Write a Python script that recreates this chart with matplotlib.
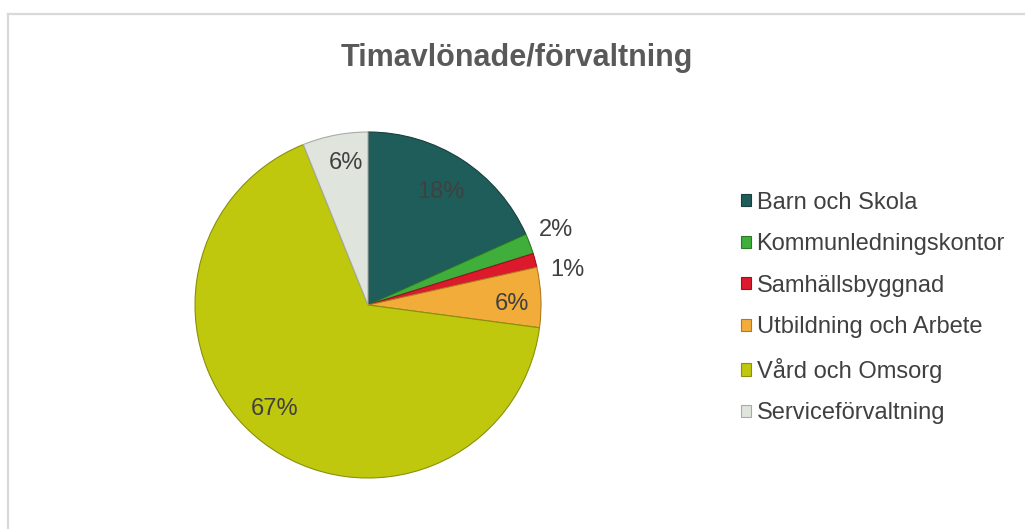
import numpy as np
import matplotlib.pyplot as plt
from matplotlib.patches import Patch
from matplotlib.lines import Line2D

plt.rcParams["font.family"] = ["Liberation Sans", "DejaVu Sans"]

# data (percent of hourly paid staff)
categories = ["Barn och Skola", "Kommunledningskontor", "Samhällsbyggnad",
              "Utbildning och Arbete", "Vård och Omsorg", "Serviceförvaltning"]
shares = [18.3, 1.9, 1.3, 5.6, 66.8, 6.1]
colors = ["#1f5d5a", "#3fae3a", "#dc1a2c", "#f2ac3a", "#c0c80e", "#dfe4dd"]
edges = ["#163f3d", "#2a7a28", "#9a1220", "#b07a22", "#8a900a", "#a8aca6"]

# label placement (radius, angle tweak in degrees) per slice
label_r = [0.78, 1.17, 1.17, 0.83, 0.81, 0.83]
label_dang = [0, 1, -5, -2, -4, -2]

fig = plt.figure(figsize=(10.25, 5.29), dpi=100)

W, H = 1025, 529
cx, cy, r = 368, 305, 173
ax = fig.add_axes([(cx - r) / W, (H - cy - r) / H, 2 * r / W, 2 * r / H])

wedges, _ = ax.pie(shares, colors=colors, startangle=90, counterclock=False,
                   radius=1, wedgeprops=dict(linewidth=0.8))
for w, ec in zip(wedges, edges):
    w.set_edgecolor(ec)

for w, val, rr, da in zip(wedges, shares, label_r, label_dang):
    ang = np.deg2rad((w.theta1 + w.theta2) / 2 + da)
    ax.text(rr * np.cos(ang), rr * np.sin(ang), f"{val:.0f}%",
            ha="center", va="center", fontsize=17, color="#404040")

ax.set_xlim(-1, 1)
ax.set_ylim(-1, 1)
ax.set_aspect("equal")
ax.axis("off")

fig.text(517 / W, 1 - 58 / H, "Timavlönade/förvaltning", ha="center", va="center",
         fontsize=22, fontweight="bold", color="#595959")

handles = [Patch(facecolor=c, edgecolor=e, linewidth=0.8) for c, e in zip(colors, edges)]
fig.legend(handles, categories, loc="center left", bbox_to_anchor=(729 / W, 1 - 308 / H),
           frameon=False, fontsize=17, labelcolor="#404040", handlelength=0.42,
           handleheight=0.42, handletextpad=0.25, labelspacing=0.83, borderpad=0)

# chart frame (only top and left edges visible)
fig.add_artist(Line2D([8 / W, 1], [1 - 14 / H, 1 - 14 / H], color="#d9d9d9", lw=1.6))
fig.add_artist(Line2D([8 / W, 8 / W], [0, 1 - 14 / H], color="#d9d9d9", lw=1.6))

fig.savefig("out.png", dpi=100)
